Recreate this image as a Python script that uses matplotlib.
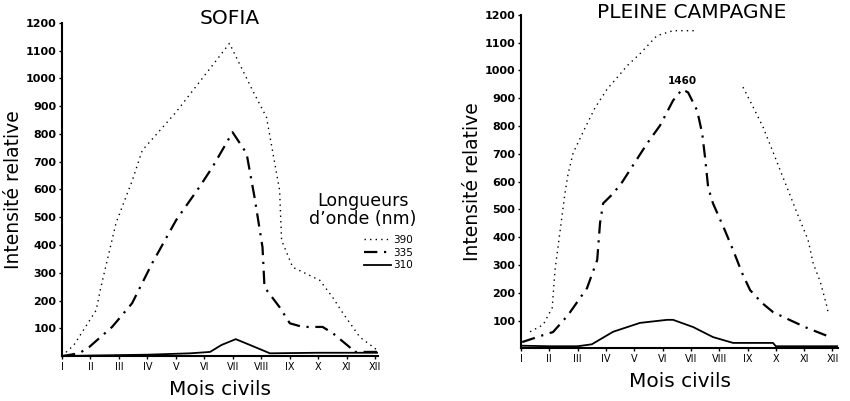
import matplotlib
matplotlib.use("Agg")
import matplotlib.pyplot as plt
import numpy as np

# month labels (roman)
mois = ["I", "II", "III", "IV", "V", "VI", "VII", "VIII", "IX", "X", "XI", "XII"]
yticks = [100, 200, 300, 400, 500, 600, 700, 800, 900, 1000, 1100, 1200]

# SOFIA - values, x in month units
sofia_390_x = [1.0, 1.42, 2.2, 2.37, 2.9, 3.46, 3.82, 5.0, 6.42, 6.88, 7.69, 8.18, 8.64, 8.71, 9.1, 10.05, 10.5, 10.86, 11.46, 12.06]
sofia_390_y = [0, 40, 165, 250, 480, 630, 741, 878, 1065, 1126, 957, 860, 597, 417, 320, 273, 212, 155, 68, 22]

sofia_335_x = [1.0, 1.6, 1.95, 2.76, 3.46, 4.17, 5.01, 5.82, 6.28, 6.99, 7.48, 7.76, 8.04, 8.11, 8.64, 9.0, 9.45, 10.15, 10.5, 11.1, 11.2, 12.06]
sofia_335_y = [0, 10, 32, 105, 190, 335, 490, 608, 680, 806, 730, 572, 392, 248, 176, 118, 105, 105, 83, 32, 15, 15]

sofia_310_x = [1.0, 2.0, 4.0, 5.5, 6.2, 6.6, 7.1, 7.6, 8.3, 10.0, 12.06]
sofia_310_y = [0, 2, 5, 10, 15, 40, 61, 40, 10, 12, 12]

# PLEINE CAMPAGNE
pc_390_x = [1.32, 1.78, 2.1, 2.2, 2.55, 2.66, 2.84, 3.26, 3.61, 4.04, 4.39, 4.75, 5.2, 5.8, 6.37, 7.22,
            np.nan, 8.84, 9.2, 9.55, 9.9, 10.22, 10.43, 10.75, 11.14, 11.32, 11.57, 11.81, 11.85]
pc_390_y = [60, 85, 146, 282, 557, 627, 703, 793, 865, 933, 974, 1017, 1060, 1125, 1143, 1143,
            np.nan, 940, 868, 796, 707, 624, 570, 487, 390, 306, 240, 149, 127]

pc_335_x = [1.04, 1.78, 2.13, 2.66, 3.33, 3.69, 3.79, 3.9, 4.25, 4.57, 5.45, 5.91, 6.37, 6.69, 6.9, 7.22,
            7.4, 7.5, 7.61, 7.78, 8.2, 8.49, 8.81, 9.09, 9.52, 9.9, 10.5, 11.1, 11.92]
pc_335_y = [23, 48, 59, 120, 217, 318, 451, 522, 557, 598, 737, 802, 892, 932, 921, 856,
            773, 687, 579, 522, 425, 354, 271, 210, 163, 131, 102, 74, 41]

pc_310_x = [1.0, 2.0, 3.0, 3.5, 4.25, 5.2, 6.16, 6.37, 7.08, 7.78, 8.49, 9.9, 10.0, 12.2]
pc_310_y = [10, 8, 8, 15, 60, 92, 103, 103, 77, 41, 20, 20, 8, 8]

dotted = (0, (1, 3))
dashdot = (0, (6, 3, 1, 3))

fig = plt.figure(figsize=(8.5, 4.01), dpi=100)
ax1 = fig.add_axes([0.0729, 0.112, 0.372, 0.831])
ax2 = fig.add_axes([0.613, 0.131, 0.373, 0.832])


def style(ax, xmax):
    ax.set_xlim(1, xmax)
    ax.set_ylim(0, 1200)
    for s in ["top", "right"]:
        ax.spines[s].set_visible(False)
    for s in ["left", "bottom"]:
        ax.spines[s].set_linewidth(1.5)
    ax.set_xticks(range(1, 13))
    ax.set_xticklabels(mois, fontsize=7)
    ax.set_yticks(yticks)
    ax.set_yticklabels([str(v) for v in yticks], fontsize=8, fontweight="bold")
    ax.tick_params(axis="both", length=2, width=1, pad=2)
    ax.set_xlabel("Mois civils", fontsize=14.5, labelpad=6)
    ax.set_ylabel("Intensité relative", fontsize=13.5, labelpad=2)


ax1.plot(sofia_390_x, sofia_390_y, color="black", lw=1.0, ls=dotted, label="390")
ax1.plot(sofia_335_x, sofia_335_y, color="black", lw=1.6, ls=dashdot, label="335")
ax1.plot(sofia_310_x, sofia_310_y, color="black", lw=1.3, ls="-", label="310")
style(ax1, 12.1)

ax1.text(0.952, 0.4377, "Longueurs\nd’onde (nm)", transform=ax1.transAxes,
         ha="center", va="center", fontsize=12.5, linespacing=1.0)
leg = ax1.legend(loc="upper left", bbox_to_anchor=(0.955, 0.363), frameon=False,
                 fontsize=7.5, handlelength=2.6, handletextpad=0.2, labelspacing=0.25,
                 borderaxespad=0, borderpad=0)

ax2.plot(pc_390_x, pc_390_y, color="black", lw=1.0, ls=dotted)
ax2.plot(pc_335_x, pc_335_y, color="black", lw=1.6, ls=dashdot)
ax2.plot(pc_310_x, pc_310_y, color="black", lw=1.3, ls="-")
style(ax2, 12.2)
ax2.text(6.7, 962, "1460", fontsize=7.5, fontweight="bold", ha="center", va="center")

fig.text(230 / 850, 1 - 19 / 401, "SOFIA", fontsize=14.5, ha="center", va="center")
fig.text(692 / 850, 1 - 12 / 401, "PLEINE CAMPAGNE", fontsize=14.5, ha="center", va="center")

fig.savefig("out.png", dpi=100)
